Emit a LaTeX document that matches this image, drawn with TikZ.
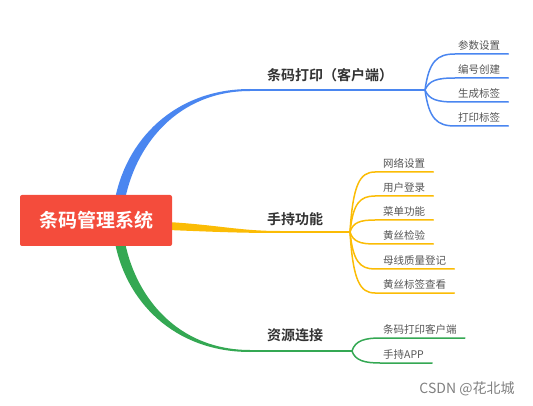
\documentclass[tikz,border=0pt]{standalone}
\usepackage{fontspec}
\setmainfont{Noto Sans CJK SC}[BoldFont={Noto Sans CJK SC Bold}]
\usepackage{tikz}
\usetikzlibrary{calc}
\definecolor{rootred}{HTML}{F44C3C}
\definecolor{mapblue}{HTML}{4A86F0}
\definecolor{mapyellow}{HTML}{FBBC05}
\definecolor{mapgreen}{HTML}{34A853}
\definecolor{topicgray}{HTML}{333333}
\definecolor{leafgray}{HTML}{555555}

\begin{document}
\begin{tikzpicture}[x=1pt,y=-1pt,
        rootbox/.style={fill=rootred, rounded corners=2pt, minimum width=152pt, minimum height=51pt,
            text=white, font=\bfseries\fontsize{19}{19}\selectfont},
        topic/.style={anchor=west, inner xsep=4pt, text=topicgray, font=\bfseries\fontsize{14}{14}\selectfont},
        leaf/.style={anchor=west, inner xsep=8pt, inner ysep=1pt, text=leafgray, font=\fontsize{10.5}{10.5}\selectfont},
        twig/.style={line width=1.5pt, line cap=round}]
            \useasboundingbox (0,0) rectangle (533,406);
            \begin{scope}
                \coordinate (b0) at (119,205);
                \coordinate (b1) at (250,90);
                \coordinate (bj) at (425,90);
                \fill[mapblue] ($(b0)+(-5,0)$) .. controls +(10,-65) and +(-75,0) .. ($(b1)+(0,-1)$) -- ($(b1)+(0,1)$) .. controls +(-72,0) and +(10,-60) .. ($(b0)+(5,0)$) -- cycle;
                \draw[mapblue, line width=2pt] (b1) -- (bj);
                \node[topic] (t1) at (263,75) {条码打印（客户端）};
                \foreach \y/\txt [count=\i] in {54/参数设置,78/编号创建,102/生成标签,126/打印标签} {
                    \coordinate (be\i) at (455,\y);
                    \node[leaf] (bl\i) at (450,\y-8.5) {\txt};
                    \draw[twig, mapblue] (bj) .. controls +(4,{0.8*(\y-90)}) and +(-18,0) .. (be\i) -- (bl\i.east |- be\i);
                }
            \end{scope}
            \begin{scope}
                \coordinate (y0) at (168,226);
                \coordinate (y1) at (280,232);
                \coordinate (yj) at (350,232);
                \fill[mapyellow] ($(y0)+(0,-4)$) .. controls +(50,3) and +(-40,0) .. ($(y1)+(0,-1)$) -- ($(y1)+(0,1)$) .. controls +(-40,0) and +(50,2) .. ($(y0)+(0,4)$) -- cycle;
                \draw[mapyellow, line width=2pt] (y1) -- (yj);
                \node[topic] (t2) at (263,219) {手持功能};
                \foreach \y/\txt [count=\i] in {172/网络设置,196/用户登录,220/菜单功能,244/黄丝检验,269/母线质量登记,293/黄丝标签查看} {
                    \coordinate (ye\i) at (375,\y);
                    \node[leaf] (yl\i) at (375,\y-8.5) {\txt};
                    \draw[twig, mapyellow] (yj) .. controls +(3,{0.8*(\y-232)}) and +(-15,0) .. (ye\i) -- (yl\i.east |- ye\i);
                }
            \end{scope}
            \begin{scope}
                \coordinate (g0) at (119,237);
                \coordinate (g1) at (250,351);
                \coordinate (gj) at (352,351);
                \fill[mapgreen] ($(g0)+(-5,0)$) .. controls +(10,65) and +(-75,0) .. ($(g1)+(0,1)$) -- ($(g1)+(0,-1)$) .. controls +(-72,0) and +(10,60) .. ($(g0)+(5,0)$) -- cycle;
                \draw[mapgreen, line width=2pt] (g1) -- (gj);
                \node[topic] (t3) at (263,335) {资源连接};
                \foreach \y/\txt [count=\i] in {338/条码打印客户端,363/手持APP} {
                    \coordinate (ge\i) at (380,\y);
                    \node[leaf] (gl\i) at (375,\y-8.5) {\txt};
                    \draw[twig, mapgreen] (gj) .. controls +(3,{0.8*(\y-351)}) and +(-15,0) .. (ge\i) -- (gl\i.east |- ge\i);
                }
            \end{scope}
            \node[rootbox] (root) at (96,220.5) {条码管理系统};
            \node[text=gray, font=\fontsize{14}{14}\selectfont] (mark) at (467,389) {CSDN @花北城};
        \end{tikzpicture}
\end{document}
